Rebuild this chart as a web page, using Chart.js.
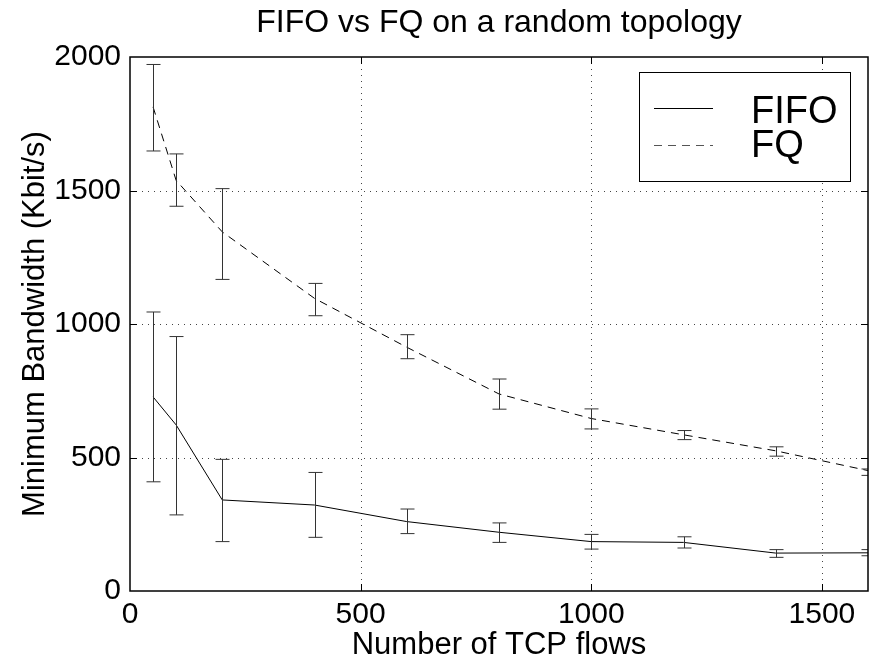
<!DOCTYPE html>
<html><head><meta charset="utf-8">
<script src="https://cdn.jsdelivr.net/npm/chart.js@4/dist/chart.umd.min.js"></script>
<style>html,body{margin:0;padding:0;background:#fff;}</style>
</head><body>
<canvas id="c" width="870" height="661"></canvas>
<script>
const chartTitle = 'FIFO vs FQ on a random topology';
const xTitle = 'Number of TCP flows';
const yTitle = 'Minimum Bandwidth (Kbit/s)';
const seriesNames = ['FIFO', 'FQ'];
const flows = [50, 100, 200, 400, 600, 800, 1000, 1200, 1400, 1600];
const fifoMean = [727, 622, 341, 322, 260, 220, 185, 182, 142, 143];
const fifoLow  = [409, 285, 185, 201, 215, 182, 157, 161, 126, 132];
const fifoHigh = [1045, 953, 493, 444, 307, 255, 212, 203, 155, 155];
const fqMean = [1813, 1538, 1345, 1096, 913, 738, 646, 585, 525, 451];
const fqLow  = [1648, 1441, 1167, 1031, 870, 681, 607, 567, 505, 433];
const fqHigh = [1972, 1637, 1507, 1152, 960, 794, 682, 601, 540, 457];
const xTicks = [0, 500, 1000, 1500];
const yTicks = [0, 500, 1000, 1500, 2000];
const xMin = 0, xMax = 1600, yMin = 0, yMax = 2000;

const FONT = 'Liberation Sans, Arial, Helvetica, sans-serif';
const pts = (xs, ys) => xs.map((x, i) => ({x: x, y: ys[i]}));

const errBars = [
  {low: fifoLow, high: fifoHigh, color: '#333'},
  {low: fqLow, high: fqHigh, color: '#333'}
];

const framePlugin = {
  id: 'frame',
  beforeDatasetsDraw(chart) {
    const {ctx, chartArea: a, scales: {x, y}} = chart;
    ctx.save();
    ctx.strokeStyle = '#444';
    ctx.lineWidth = 1;
    ctx.setLineDash([1, 5]);
    xTicks.forEach(v => {
      if (v <= xMin || v >= xMax) return;
      const px = Math.round(x.getPixelForValue(v)) + 0.5;
      ctx.beginPath(); ctx.moveTo(px, a.top); ctx.lineTo(px, a.bottom); ctx.stroke();
    });
    yTicks.forEach(v => {
      if (v <= yMin || v >= yMax) return;
      const py = Math.round(y.getPixelForValue(v)) + 0.5;
      ctx.beginPath(); ctx.moveTo(a.left, py); ctx.lineTo(a.right, py); ctx.stroke();
    });
    ctx.restore();
  },
  afterDatasetsDraw(chart) {
    const {ctx, chartArea: a, scales: {x, y}} = chart;
    ctx.save();
    ctx.beginPath();
    ctx.rect(a.left, 0, a.right - a.left, chart.height);
    ctx.clip();
    ctx.setLineDash([]);
    ctx.lineWidth = 1;
    errBars.forEach(eb => {
      ctx.strokeStyle = eb.color;
      flows.forEach((f, i) => {
        const px = Math.round(x.getPixelForValue(f)) + 0.5;
        const y1 = y.getPixelForValue(eb.low[i]);
        const y2 = y.getPixelForValue(eb.high[i]);
        ctx.beginPath();
        ctx.moveTo(px, y1); ctx.lineTo(px, y2);
        ctx.moveTo(px - 7, y1); ctx.lineTo(px + 7, y1);
        ctx.moveTo(px - 7, y2); ctx.lineTo(px + 7, y2);
        ctx.stroke();
      });
    });
    ctx.restore();
    ctx.save();
    ctx.strokeStyle = '#000';
    ctx.lineWidth = 1.5;
    ctx.strokeRect(a.left, a.top, a.right - a.left, a.bottom - a.top);
    ctx.lineWidth = 1;
    xTicks.forEach(v => {
      if (v <= xMin || v >= xMax) return;
      const px = Math.round(x.getPixelForValue(v)) + 0.5;
      ctx.beginPath();
      ctx.moveTo(px, a.bottom); ctx.lineTo(px, a.bottom - 7);
      ctx.moveTo(px, a.top); ctx.lineTo(px, a.top + 7);
      ctx.stroke();
    });
    yTicks.forEach(v => {
      if (v <= yMin || v >= yMax) return;
      const py = Math.round(y.getPixelForValue(v)) + 0.5;
      ctx.beginPath();
      ctx.moveTo(a.left, py); ctx.lineTo(a.left + 7, py);
      ctx.moveTo(a.right, py); ctx.lineTo(a.right - 7, py);
      ctx.stroke();
    });
    // legend
    const lx = 639, ly = 72, lw = 211, lh = 109;
    ctx.fillStyle = '#fff';
    ctx.fillRect(lx, ly, lw, lh);
    ctx.strokeStyle = '#000';
    ctx.lineWidth = 1;
    ctx.strokeRect(lx + 0.5, ly + 0.5, lw, lh);
    ctx.beginPath(); ctx.moveTo(654, 108.5); ctx.lineTo(713, 108.5); ctx.stroke();
    ctx.strokeStyle = '#555';
    ctx.setLineDash([8, 6]);
    ctx.beginPath(); ctx.moveTo(654, 145.5); ctx.lineTo(713, 145.5); ctx.stroke();
    ctx.setLineDash([]);
    ctx.fillStyle = '#000';
    ctx.font = '38px ' + FONT;
    ctx.textAlign = 'left';
    ctx.textBaseline = 'alphabetic';
    ctx.fillText(seriesNames[0], 751, 123);
    ctx.fillText(seriesNames[1], 751, 157);
    // title centred over the plot area
    ctx.font = '32px ' + FONT;
    ctx.textAlign = 'center';
    ctx.fillText(chartTitle, (a.left + a.right) / 2, 32);
    ctx.restore();
  }
};

new Chart(document.getElementById('c'), {
  type: 'line',
  data: {
    datasets: [
      {label: seriesNames[0], data: pts(flows, fifoMean), borderColor: '#000', borderWidth: 1,
       pointRadius: 0, tension: 0, fill: false},
      {label: seriesNames[1], data: pts(flows, fqMean), borderColor: '#000', borderWidth: 1,
       borderDash: [8, 6], pointRadius: 0, tension: 0, fill: false}
    ]
  },
  options: {
    responsive: false,
    animation: false,
    devicePixelRatio: 1,
    layout: {padding: {left: 0, right: 2, top: 57, bottom: 0}},
    plugins: {
      legend: {display: false},
      tooltip: {enabled: false},
      title: {display: false}
    },
    scales: {
      x: {
        type: 'linear', min: xMin, max: xMax,
        grid: {display: false, drawTicks: false, tickLength: 0}, border: {display: false},
        afterBuildTicks(s) { s.ticks = xTicks.map(v => ({value: v})); },
        ticks: {color: '#000', padding: 6, autoSkip: false,
                font: {family: FONT, size: 30}, maxRotation: 0, minRotation: 0,
                callback: v => String(v)},
        title: {display: true, text: xTitle, color: '#000',
                font: {family: FONT, size: 31, lineHeight: 1.0}, padding: {top: 0, bottom: 0}},
        afterFit(s) { s.height = 70; }
      },
      y: {
        type: 'linear', min: yMin, max: yMax,
        grid: {display: false, drawTicks: false, tickLength: 0}, border: {display: false},
        afterBuildTicks(s) { s.ticks = yTicks.map(v => ({value: v})); },
        ticks: {color: '#000', padding: 9, autoSkip: false,
                font: {family: FONT, size: 30}, callback: v => String(v)},
        title: {display: true, text: yTitle, color: '#000',
                font: {family: FONT, size: 31}, padding: {top: 17, bottom: 0}},
        afterFit(s) { s.width = 130; }
      }
    }
  },
  plugins: [framePlugin]
});
</script>
</body></html>
